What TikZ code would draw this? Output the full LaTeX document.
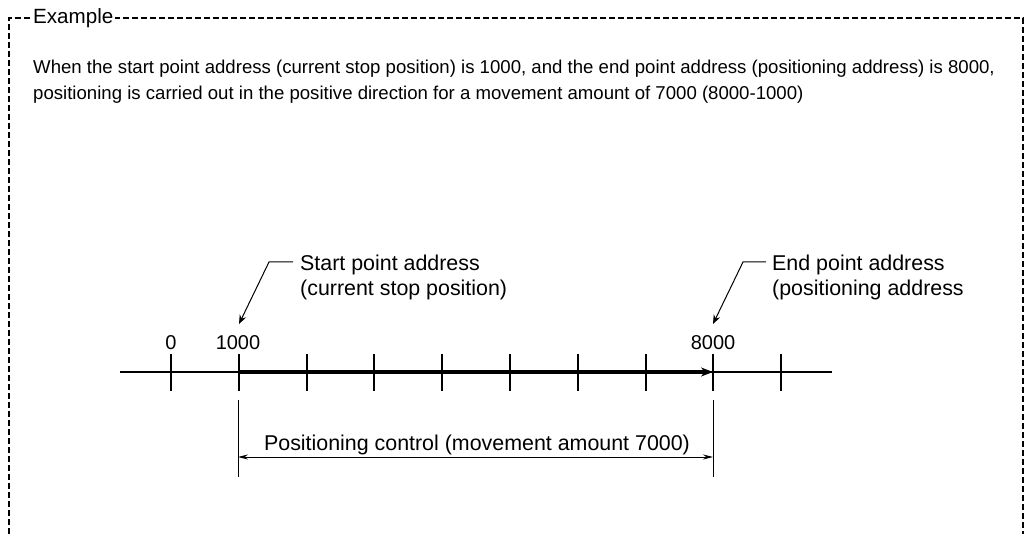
\documentclass[tikz,border=0pt]{standalone}
\usepackage{fontspec}
\setmainfont{Liberation Sans}
\usepackage{tikz}
\usetikzlibrary{positioning,arrows.meta,calc}

\tikzset{
  lbl/.style={inner sep=0pt, font=\fontsize{21.4}{26}\selectfont},
  numlbl/.style={inner sep=0pt, font=\fontsize{20}{24}\selectfont},
  bodytext/.style={inner sep=0pt, anchor=base west, font=\fontsize{18.6}{22}\selectfont},
  leader/.style={line width=1pt, -{Stealth[length=9pt,width=7pt]}},
  dimline/.style={line width=1pt, {Stealth[length=10pt,width=5pt]}-{Stealth[length=10pt,width=5pt]}},
}

\begin{document}
\begin{tikzpicture}[x=1pt, y=-1pt]
\useasboundingbox (0,0) rectangle (1025,534);
% dashed frame, open at the bottom
\draw[line width=1.8pt, dash pattern=on 6pt off 3pt] (9,534) -- (9,18) -- (1023,18) -- (1023,534);
\node[lbl, font=\fontsize{20.6}{24}\selectfont, fill=white, inner xsep=2pt, anchor=west] (title) at (31,18) {Example};
% explanation
\node[bodytext] (intro1) at (33,74)
  {When the start point address (current stop position) is 1000, and the end point address (positioning address) is 8000,};
\node[bodytext] (intro2) at (33,100)
  {positioning is carried out in the positive direction for a movement amount of 7000 (8000-1000)};
% axis
\coordinate (axl) at (120,372);
\coordinate (axr) at (832,372);
\coordinate (p1000) at (238,372);
\coordinate (p8000) at (713,372);
\draw[line width=2pt] (axl) -- (axr);
\foreach \i in {0,...,9}
  \draw[line width=2pt] (171+67.8*\i,354) -- ++(0,37);
\draw[line width=3pt, -{Stealth[length=12pt,width=9pt]}] (p1000) -- (p8000);
% tick labels
\node[numlbl] (n0) at (171,343) {0};
\node[numlbl] (n1000) at (238,343) {1000};
\node[numlbl] (n8000) at (713,343) {8000};
% start / end callouts
\node[lbl, anchor=base west] (start1) at (300,271) {Start point address};
\node[lbl, anchor=base west] (start2) at (300,296) {(current stop position)};
\coordinate (startknee) at (269,262);
\coordinate (starttip) at (239,324);
\draw[leader] ($(startknee -| start1.west)+(-7,0)$) -- (startknee) -- (starttip);
\node[lbl, anchor=base west] (end1) at (772,271) {End point address};
\node[lbl, anchor=base west] (end2) at (772,296) {(positioning address};
\coordinate (endknee) at (743,262);
\coordinate (endtip) at (713,324);
\draw[leader] ($(endknee -| end1.west)+(-6,0)$) -- (endknee) -- (endtip);
% movement amount
\coordinate (ext1) at (238,400);
\coordinate (ext2) at (713,400);
\draw[line width=1pt] (ext1) -- ++(0,77) coordinate (ext1b);
\draw[line width=1pt] (ext2) -- ++(0,77) coordinate (ext2b);
\draw[dimline] ($(ext1)+(0,57)$) -- ($(ext2)+(0,57)$);
\node[lbl, anchor=base] (move) at (477,450) {Positioning control (movement amount 7000)};
\end{tikzpicture}
\end{document}
